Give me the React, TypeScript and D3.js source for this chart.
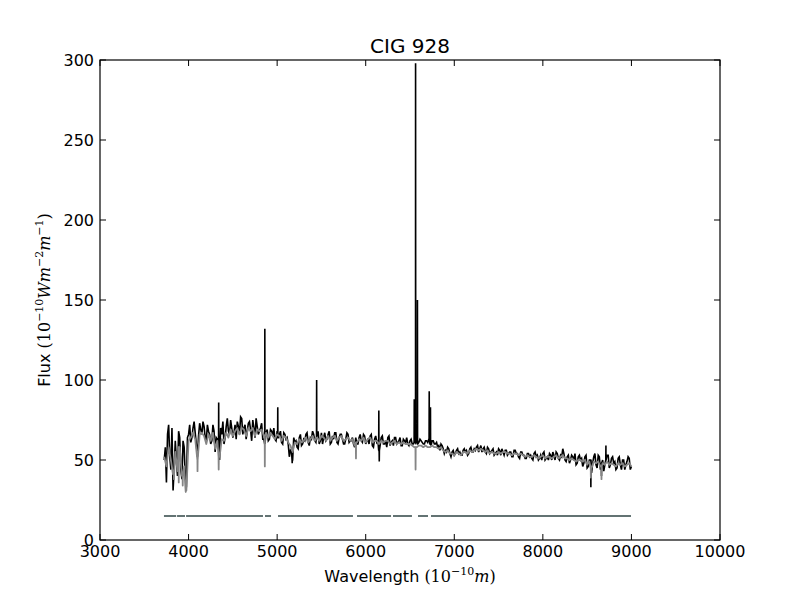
import React from "react";
import * as d3 from "d3";

const width = 800;
const height = 600;
const margin = { top: 60, right: 80, bottom: 60, left: 100 };
const innerW = width - margin.left - margin.right;
const innerH = height - margin.top - margin.bottom;

// wavelength grid of the sampled spectrum (Angstrom)
const waveStart = 3725;
const waveStep = 25;

const obsFlux = [
  50, 36, 72, 44, 31, 62, 40, 64, 38, 58, 33,
  66, 61, 70, 67, 52, 73, 66, 71, 62, 68, 60, 72, 55, 63, 50, 66, 60, 71, 68, 75,
  64, 72, 74, 66, 76, 70, 63, 73, 69, 75, 64, 71, 68, 73, 63, 67, 62,
  69, 65, 63, 68, 66, 61, 67, 63, 60, 56, 50, 61, 58, 64, 59, 63, 66, 61, 64, 68,
  62, 65, 60, 67, 64, 62, 66, 60, 65, 67, 61, 64, 66, 60, 63, 66, 62, 64, 58, 60,
  64, 62, 66, 60, 63, 65, 59, 63, 61, 56, 64, 60, 62, 64, 59, 62, 64, 60, 62, 59,
  63, 61, 60, 62, 60, 61, 62, 61, 62, 60, 62, 61, 60, 62, 60, 61,
  59, 60, 57, 56, 58, 54, 55, 53, 56, 54, 53, 56, 55, 53, 57, 55, 57, 58, 55, 59,
  57, 55, 58, 54, 56, 53, 55, 57, 53, 55, 56, 53, 55, 52, 56, 54, 52, 55, 53, 51,
  54, 52, 51, 54, 52, 50, 53, 54, 50, 52, 54, 50, 53, 55, 51, 53, 57, 50, 52, 48,
  53, 50, 47, 52, 50, 46, 52, 45, 50, 42, 52, 47, 53, 44, 50, 47, 53, 45, 51, 48,
  44, 51, 47, 50, 44, 49, 51, 46,
];

// observed flux half way between grid steps (3737.5, 3762.5, ...)
const obsFluxHalf = [
  58, 66, 52, 70, 45, 50, 68, 44, 62, 40, 64,
  72, 64, 74, 60, 65, 69, 74, 64, 72, 66, 62, 68, 64, 58, 70, 74, 64, 76, 66, 70,
  67, 63, 71, 77, 66, 72, 68, 74, 62, 70, 76, 66, 70, 63, 60, 69,
  63, 68, 70, 62, 64, 68, 60, 66, 64, 52, 55, 64, 62, 57, 66, 60, 62, 67, 59, 63,
  66, 61, 68, 62, 60, 67, 63, 68, 61, 63, 67, 60, 66, 63, 60, 67, 61, 62, 60, 64,
  60, 66, 61, 65, 62, 60, 66, 58, 65, 62, 59, 65, 60, 58, 65, 61, 59, 64, 61, 64,
  59, 62, 64, 59, 63, 60, 61, 60, 63, 61, 60, 62, 63, 59, 62, 60,
  58, 56, 59, 54, 55, 57, 52, 56, 54, 57, 55, 53, 57, 56, 54, 58, 55, 56, 59, 57,
  55, 58, 54, 57, 55, 57, 54, 53, 56, 57, 53, 56, 54, 55, 52, 56, 54, 51, 55, 53,
  51, 54, 53, 50, 55, 53, 51, 50, 55, 51, 50, 53, 55, 50, 54, 50, 52, 54, 49, 53,
  50, 52, 54, 48, 53, 51, 48, 53, 46, 50, 48, 54, 45, 52, 48, 43, 50, 53, 47, 52,
  49, 45, 52, 44, 50, 47, 52, 44,
];

// synthetic (model) flux on the main grid
const modelFlux = [
  52, 46, 58, 50, 41, 55, 43, 58, 40, 46, 31,
  62, 64, 67, 63, 50, 66, 67, 65, 60, 66, 62, 67, 57, 62, 52, 63, 62, 67, 64, 69,
  65, 68, 70, 66, 70, 69, 65, 70, 68, 70, 65, 69, 68, 69, 65, 67, 64,
  67, 65, 63, 66, 65, 62, 65, 64, 61, 59, 55, 61, 60, 63, 61, 62, 64, 61, 63, 65,
  62, 64, 62, 65, 64, 62, 65, 62, 64, 65, 62, 64, 65, 62, 63, 64, 62, 63, 59, 61,
  63, 62, 64, 61, 63, 64, 61, 62, 62, 60, 62, 61, 62, 62, 60, 61, 62, 60, 61, 60,
  61, 60, 60, 60, 59, 58, 58, 59, 59, 58, 59, 58, 58, 59, 58, 58,
  57, 58, 56, 55, 56, 54, 54, 53, 55, 54, 53, 55, 55, 54, 56, 55, 56, 57, 56, 57,
  56, 55, 56, 54, 55, 54, 54, 55, 54, 55, 55, 54, 54, 53, 54, 54, 53, 54, 53, 52,
  53, 52, 52, 53, 52, 51, 52, 53, 51, 52, 52, 51, 52, 53, 51, 52, 53, 51, 51, 50,
  51, 50, 49, 50, 50, 49, 50, 47, 49, 45, 49, 48, 49, 46, 48, 47, 49, 47, 48, 47,
  46, 48, 47, 48, 46, 47, 48, 46,
];

// narrow lines in the observed spectrum: wavelength, flux at the line
const obsLineWave = [4340, 4861, 5007, 5170, 5446, 6148, 6153, 6548, 6563, 6584, 6717, 6731, 8542, 8662, 8712];
const obsLineFlux = [86, 132, 83, 48, 100, 81, 49, 88, 298, 150, 93, 83, 33, 40, 59];

// absorption dips in the model
const modelLineWave = [3835, 3889, 3934, 3968, 4101, 4340, 4861, 5890, 6563, 8542, 8662];
const modelLineFlux = [38, 36, 34, 30, 43, 44, 46, 51, 44, 39, 38];

// fitted wavelength windows (mask bar at flux 15)
const maskStart = [3722, 3870, 3972, 4863, 5010, 5902, 6308, 6590, 6737];
const maskEnd = [3860, 3960, 4840, 4931, 5856, 6286, 6522, 6703, 8995];
const maskLevel = 15;

const xTicks = [3000, 4000, 5000, 6000, 7000, 8000, 9000, 10000];
const yTicks = [0, 50, 100, 150, 200, 250, 300];

const x = d3.scaleLinear().domain([3000, 10000]).range([0, innerW]);
const y = d3.scaleLinear().domain([0, 300]).range([innerH, 0]);

type Pt = [number, number];

const withLines = (base: Pt[], lw: number[], lf: number[]) => {
  const sorted = [...base].sort((a, b) => a[0] - b[0]);
  const extra: Pt[] = [];
  lw.forEach((w, k) => {
    const near = d3.least(sorted, (p) => Math.abs(p[0] - w)) as Pt;
    extra.push([w - 1.5, near[1]], [w, lf[k]], [w + 1.5, near[1]]);
  });
  return [...sorted, ...extra].sort((a, b) => a[0] - b[0]);
};

const obsPts: Pt[] = [
  ...obsFlux.map((v, i) => [waveStart + i * waveStep, v] as Pt),
  ...obsFluxHalf.map((v, i) => [waveStart + waveStep / 2 + i * waveStep, v] as Pt),
];
const modelPts: Pt[] = modelFlux.map((v, i) => [waveStart + i * waveStep, v] as Pt);

const line = d3
  .line<Pt>()
  .x((d) => x(d[0]))
  .y((d) => y(d[1]));

const obsPath = line(withLines(obsPts, obsLineWave, obsLineFlux)) || "";
const modelPath = line(withLines(modelPts, modelLineWave, modelLineFlux)) || "";

const sans = "'DejaVu Sans', sans-serif";
const serif = "'DejaVu Serif', 'Liberation Serif', serif";
const tickLen = 6;

const App = () => {
  return (
    <svg
      width={width}
      height={height}
      style={{ position: "absolute", left: 0, top: 0, background: "white" }}
    >
      <rect width={width} height={height} fill="white" />
      <text x={margin.left + innerW / 2} y={53} textAnchor="middle" fontFamily={sans} fontSize={20}>
        CIG 928
      </text>
      <g transform={`translate(${margin.left}, ${margin.top})`}>
        <path d={obsPath} fill="none" stroke="black" strokeWidth={1.6} />
        <path d={modelPath} fill="none" stroke="#858585" strokeWidth={1.8} strokeLinejoin="round" />
        {maskStart.map((s, i) => (
          <line
            key={s}
            x1={x(s)}
            x2={x(maskEnd[i])}
            y1={y(maskLevel)}
            y2={y(maskLevel)}
            stroke="#637373"
            strokeWidth={2}
          />
        ))}
        <rect width={innerW} height={innerH} fill="none" stroke="black" strokeWidth={1.2} />
        {xTicks.map((t) => (
          <g key={t}>
            <line x1={x(t)} x2={x(t)} y1={innerH} y2={innerH - tickLen} stroke="black" />
            <line x1={x(t)} x2={x(t)} y1={0} y2={tickLen} stroke="black" />
            <text x={x(t)} y={innerH + 17} textAnchor="middle" fontFamily={sans} fontSize={16}>
              {t}
            </text>
          </g>
        ))}
        {yTicks.map((t) => (
          <g key={t}>
            <line x1={0} x2={tickLen} y1={y(t)} y2={y(t)} stroke="black" />
            <line x1={innerW} x2={innerW - tickLen} y1={y(t)} y2={y(t)} stroke="black" />
            <text x={-6} y={y(t)} dy="0.36em" textAnchor="end" fontFamily={sans} fontSize={16}>
              {t}
            </text>
          </g>
        ))}
      </g>
      <text x={margin.left + innerW / 2} y={582} textAnchor="middle" fontFamily={sans} fontSize={16}>
        Wavelength{" "}
        <tspan fontFamily={serif}>(10</tspan>
        <tspan fontFamily={serif} fontSize={11} dy={-7}>−10</tspan>
        <tspan fontFamily={serif} fontStyle="italic" dy={7}>m</tspan>
        <tspan fontFamily={serif}>)</tspan>
      </text>
      <text
        transform={`translate(50, ${margin.top + innerH / 2}) rotate(-90)`}
        textAnchor="middle"
        fontFamily={sans}
        fontSize={16}
      >
        Flux{" "}
        <tspan fontFamily={serif}>(10</tspan>
        <tspan fontFamily={serif} fontSize={11} dy={-7}>−10</tspan>
        <tspan fontFamily={serif} fontStyle="italic" dy={7}>Wm</tspan>
        <tspan fontFamily={serif} fontSize={11} dy={-7}>−2</tspan>
        <tspan fontFamily={serif} fontStyle="italic" dy={7}>m</tspan>
        <tspan fontFamily={serif} fontSize={11} dy={-7}>−1</tspan>
        <tspan fontFamily={serif} dy={7}>)</tspan>
      </text>
    </svg>
  );
};

export default App;
